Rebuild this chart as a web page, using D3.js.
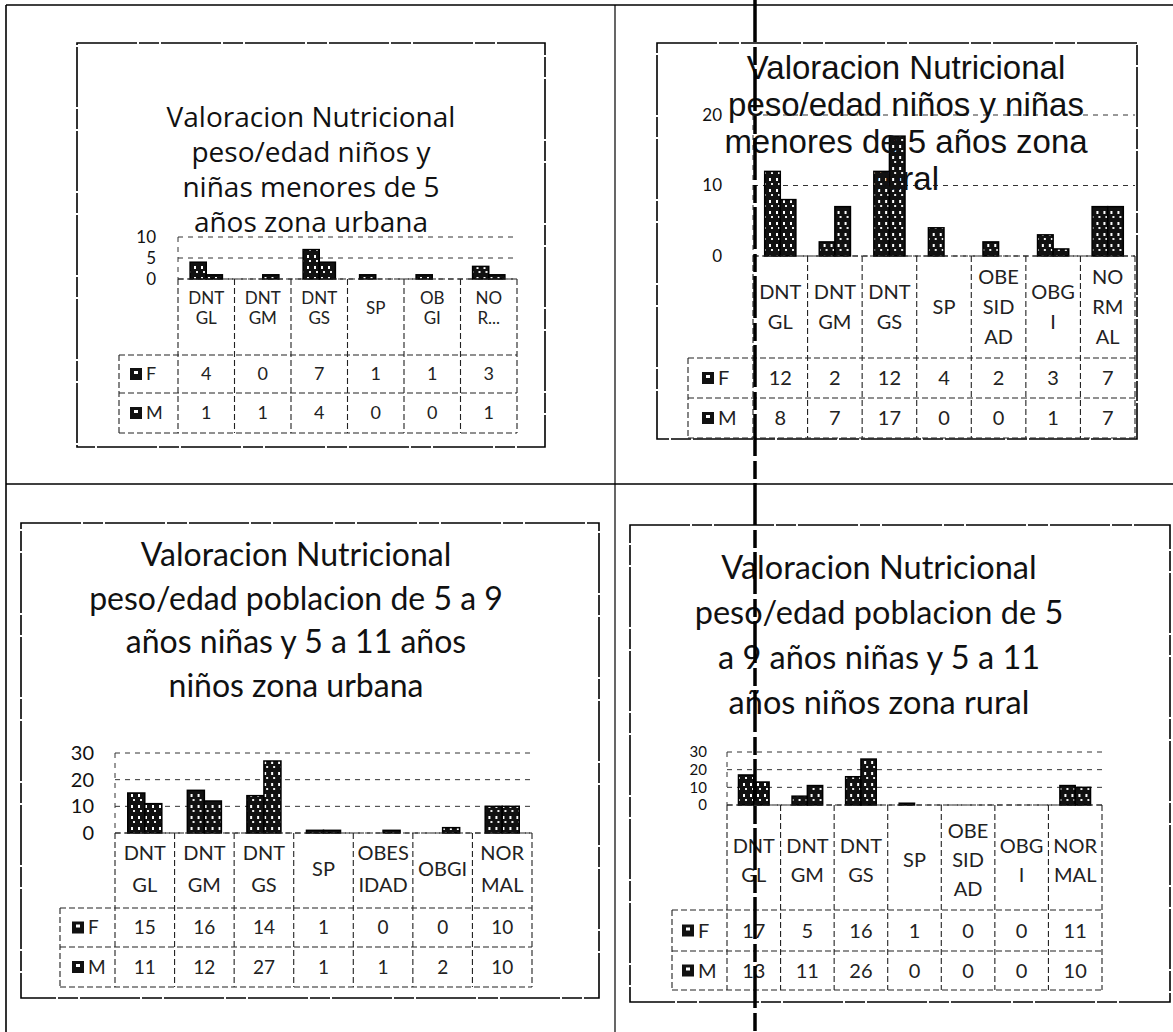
<!DOCTYPE html>
<html>
<head>
<meta charset="utf-8">
<script src="https://cdn.jsdelivr.net/npm/d3@7"></script>
<style>
  body { margin: 0; background: #fff; }
  svg { display: block; }
</style>
</head>
<body>
<svg id="hoja" width="1173" height="1032"></svg>
<script>
const series = ["F", "M"];

// grafico 1: menores de 5 años, zona urbana
const titulo1 = ["Valoracion Nutricional", "peso/edad niños y", "niñas menores de 5", "años zona urbana"];
const cat1 = [["DNT","GL"], ["DNT","GM"], ["DNT","GS"], ["SP"], ["OB","GI"], ["NO","R..."]];
const fem1 = [4, 0, 7, 1, 1, 3];
const mas1 = [1, 1, 4, 0, 0, 1];
const ticks1 = [0, 5, 10];

// grafico 2: menores de 5 años, zona rural
const titulo2 = ["Valoracion Nutricional", "peso/edad niños y niñas", "menores de 5 años zona", "rural"];
const cat2 = [["DNT","GL"], ["DNT","GM"], ["DNT","GS"], ["SP"], ["OBE","SID","AD"], ["OBG","I"], ["NO","RM","AL"]];
const fem2 = [12, 2, 12, 4, 2, 3, 7];
const mas2 = [8, 7, 17, 0, 0, 1, 7];
const ticks2 = [0, 10, 20];

// grafico 3: 5 a 9 / 5 a 11 años, zona urbana
const titulo3 = ["Valoracion Nutricional", "peso/edad poblacion de 5 a 9", "años niñas y 5 a 11 años", "niños zona urbana"];
const cat3 = [["DNT","GL"], ["DNT","GM"], ["DNT","GS"], ["SP"], ["OBES","IDAD"], ["OBGI"], ["NOR","MAL"]];
const fem3 = [15, 16, 14, 1, 0, 0, 10];
const mas3 = [11, 12, 27, 1, 1, 2, 10];
const ticks3 = [0, 10, 20, 30];

// grafico 4: 5 a 9 / 5 a 11 años, zona rural
const titulo4 = ["Valoracion Nutricional", "peso/edad poblacion de 5", "a 9 años niñas y 5 a 11", "años niños zona rural"];
const cat4 = [["DNT","GL"], ["DNT","GM"], ["DNT","GS"], ["SP"], ["OBE","SID","AD"], ["OBG","I"], ["NOR","MAL"]];
const fem4 = [17, 5, 16, 1, 0, 0, 11];
const mas4 = [13, 11, 26, 0, 0, 0, 10];
const ticks4 = [0, 10, 20, 30];

// ---- hoja ----
const svg = d3.select("#hoja");

// patron moteado (barras escaneadas)
const defs = svg.append("defs");
const pat = defs.append("pattern")
    .attr("id", "moteado")
    .attr("patternUnits", "userSpaceOnUse")
    .attr("width", 7).attr("height", 11);
pat.append("rect").attr("width", 7).attr("height", 11).attr("fill", "#111");
pat.append("rect").attr("x", 2).attr("y", 2).attr("width", 2).attr("height", 3).attr("fill", "#fff");
pat.append("rect").attr("x", 4).attr("y", 7).attr("width", 2).attr("height", 2).attr("fill", "#eee");

// cuadricula de la tabla del documento
const marco = svg.append("g").attr("stroke", "#000").attr("fill", "none");
marco.append("line").attr("x1", 6).attr("x2", 1173).attr("y1", 5).attr("y2", 5).attr("stroke-width", 1.6);
marco.append("line").attr("x1", 6).attr("x2", 6).attr("y1", 5).attr("y2", 1032).attr("stroke-width", 1.6);
marco.append("line").attr("x1", 615).attr("x2", 615).attr("y1", 5).attr("y2", 1032).attr("stroke-width", 1.2);
marco.append("line").attr("x1", 6).attr("x2", 1173).attr("y1", 484).attr("y2", 484).attr("stroke-width", 1.4);

function dibujarGrafico(cfg, titulo, categorias, fem, mas, ticks) {
    const g = svg.append("g");

    // caja del grafico
    g.append("rect")
        .attr("x", cfg.caja[0]).attr("y", cfg.caja[1])
        .attr("width", cfg.caja[2] - cfg.caja[0]).attr("height", cfg.caja[3] - cfg.caja[1])
        .attr("fill", "none").attr("stroke", "#000").attr("stroke-width", 1.6)
        .attr("stroke-dasharray", "60,2,20,2");

    const claves = categorias.map(c => c.join(" "));
    const x0 = d3.scaleBand().domain(claves).range(cfg.px).paddingInner(0).paddingOuter(0);
    const x1 = d3.scaleBand().domain(series).range([0, x0.bandwidth()]).paddingInner(0).paddingOuter(0.75);
    const y = d3.scaleLinear().domain([0, d3.max(ticks)]).range(cfg.py);

    // lineas de division
    const grid = g.append("g").attr("stroke", "#333").attr("stroke-width", 1).attr("stroke-dasharray", "5,5");
    grid.selectAll("line").data(ticks).join("line")
        .attr("x1", cfg.px[0]).attr("x2", cfg.px[1])
        .attr("y1", d => y(d)).attr("y2", d => y(d));
    grid.append("line")
        .attr("x1", cfg.px[0]).attr("x2", cfg.px[0])
        .attr("y1", y(d3.max(ticks))).attr("y2", y(0));

    // etiquetas del eje
    g.append("g").selectAll("text").data(ticks).join("text")
        .attr("x", cfg.ejeX).attr("y", d => y(d))
        .attr("dy", "0.35em").attr("text-anchor", "end")
        .attr("font-family", "Lato").attr("font-size", cfg.ejeSize).attr("fill", "#111")
        .text(d => d);

    // barras
    const filas = claves.map((k, i) => ({ k, F: fem[i], M: mas[i] }));
    g.append("g").selectAll("g").data(filas).join("g")
        .attr("transform", d => `translate(${x0(d.k)},0)`)
        .selectAll("rect").data(d => series.map(s => ({ s, v: d[s] }))).join("rect")
        .attr("x", d => x1(d.s))
        .attr("y", d => y(d.v))
        .attr("width", x1.bandwidth())
        .attr("height", d => y(0) - y(d.v))
        .attr("fill", "url(#moteado)")
        .attr("stroke", "#000").attr("stroke-width", 1.5);

    // titulo (encima de las barras, como en Excel)
    g.append("g").selectAll("text").data(titulo).join("text")
        .attr("x", cfg.tx)
        .attr("y", (d, i) => cfg.ty + i * cfg.tGap)
        .attr("dy", "0.35em")
        .attr("text-anchor", "middle")
        .attr("font-family", cfg.tFont).attr("font-size", cfg.tSize).attr("fill", "#111")
        .text(d => d);

    // tabla de datos
    const tabla = g.append("g").attr("stroke", "#222").attr("stroke-width", 1.1).attr("stroke-dasharray", "6,3");
    const lineasV = [cfg.leyX].concat(claves.map(k => x0(k))).concat([cfg.px[1]]);
    lineasV.forEach((xv, i) => {
        tabla.append("line")
            .attr("x1", xv).attr("x2", xv)
            .attr("y1", i === 0 ? cfg.tabla[0] : y(0)).attr("y2", cfg.tabla[2]);
    });
    cfg.tabla.forEach(yv => {
        tabla.append("line").attr("x1", cfg.leyX).attr("x2", cfg.px[1]).attr("y1", yv).attr("y2", yv);
    });
    tabla.append("line").attr("x1", cfg.px[0]).attr("x2", cfg.px[1]).attr("y1", y(0)).attr("y2", y(0));

    // nombres de categoria
    const etq = g.append("g")
        .attr("font-family", "Lato").attr("font-size", cfg.catSize).attr("fill", "#222")
        .attr("text-anchor", "middle");
    categorias.forEach((lineas, i) => {
        const cx = x0(claves[i]) + x0.bandwidth() / 2;
        lineas.forEach((t, j) => {
            etq.append("text")
                .attr("x", cx)
                .attr("y", cfg.catY + (j - (lineas.length - 1) / 2) * cfg.catGap)
                .attr("dy", "0.35em")
                .text(t);
        });
    });

    // filas F y M
    const valores = [fem, mas];
    series.forEach((s, r) => {
        const yc = (cfg.tabla[r] + cfg.tabla[r + 1]) / 2;
        g.append("rect")
            .attr("x", cfg.leyKey).attr("y", yc - 6)
            .attr("width", 12).attr("height", 12).attr("fill", "#111");
        g.append("rect")
            .attr("x", cfg.leyKey + 4).attr("y", yc - 3)
            .attr("width", 4).attr("height", 3).attr("fill", "#fff");
        g.append("text")
            .attr("x", cfg.leyKey + 16).attr("y", yc).attr("dy", "0.35em")
            .attr("font-family", "Lato").attr("font-size", cfg.numSize).attr("fill", "#222")
            .text(s);
        g.append("g").selectAll("text").data(valores[r]).join("text")
            .attr("x", (d, i) => x0(claves[i]) + x0.bandwidth() / 2)
            .attr("y", yc).attr("dy", "0.35em")
            .attr("text-anchor", "middle")
            .attr("font-family", "Lato").attr("font-size", cfg.numSize).attr("fill", "#222")
            .text(d => d);
    });
}

dibujarGrafico({
    caja: [77, 43, 545, 447], tx: 311, ty: 117, tGap: 35, tSize: 28, tFont: "Open Sans",
    px: [178, 517], py: [279, 237], ejeX: 156, ejeSize: 17,
    catY: 308, catGap: 20, catSize: 17,
    tabla: [355, 393, 433], leyX: 119, leyKey: 130, numSize: 18
}, titulo1, cat1, fem1, mas1, ticks1);

dibujarGrafico({
    caja: [657, 43, 1137, 439], tx: 906, ty: 67, tGap: 37, tSize: 33, tFont: "Liberation Sans",
    px: [753, 1135], py: [256, 115], ejeX: 722, ejeSize: 17,
    catY: 307, catGap: 30, catSize: 20,
    tabla: [358, 398, 438], leyX: 688, leyKey: 702, numSize: 20
}, titulo2, cat2, fem2, mas2, ticks2);

dibujarGrafico({
    caja: [21, 523, 599, 998], tx: 296, ty: 555, tGap: 43.5, tSize: 32, tFont: "Lato",
    px: [115, 532], py: [833, 753], ejeX: 94, ejeSize: 20,
    catY: 869, catGap: 32, catSize: 20,
    tabla: [908, 947, 987], leyX: 60, leyKey: 72, numSize: 19
}, titulo3, cat3, fem3, mas3, ticks3);

dibujarGrafico({
    caja: [630, 525, 1170, 1002], tx: 879, ty: 568, tGap: 45, tSize: 32.5, tFont: "Lato",
    px: [727, 1102], py: [805, 752], ejeX: 707, ejeSize: 15,
    catY: 860, catGap: 29, catSize: 20,
    tabla: [910, 951, 990], leyX: 672, leyKey: 682, numSize: 20
}, titulo4, cat4, fem4, mas4, ticks4);

// linea vertical gruesa del escaneo
svg.append("line")
    .attr("x1", 755).attr("x2", 755).attr("y1", 0).attr("y2", 1032)
    .attr("stroke", "#000").attr("stroke-width", 3.5)
    .attr("stroke-dasharray", "42,5,18,4");
</script>
</body>
</html>
